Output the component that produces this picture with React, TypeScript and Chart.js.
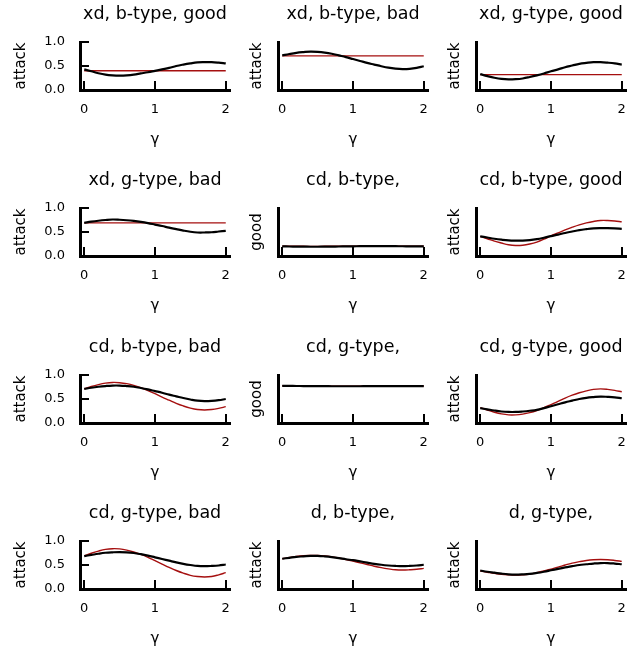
import React, { useEffect, useRef } from "react";
import { Chart, registerables } from "chart.js";

Chart.register(...registerables);

// ---------- data ----------
const gamma = [0, 0.1, 0.2, 0.3, 0.4, 0.5, 0.6, 0.7, 0.8, 0.9, 1.0, 1.1, 1.2, 1.3, 1.4, 1.5, 1.6, 1.7, 1.8, 1.9, 2.0];
const xTickValues = [0, 1, 2];
const xTickLabels = ["0", "1", "2"];
const yTickValues = [0, 0.5, 1];
const yTickLabels = ["0.0", "0.5", "1.0"];

const panelTitles = [
  "xd, b-type, good", "xd, b-type, bad", "xd, g-type, good",
  "xd, g-type, bad", "cd, b-type,", "cd, b-type, good",
  "cd, b-type, bad", "cd, g-type,", "cd, g-type, good",
  "cd, g-type, bad", "d, b-type,", "d, g-type,",
];
const panelYLabels = [
  "attack", "attack", "attack",
  "attack", "good", "attack",
  "attack", "good", "attack",
  "attack", "attack", "attack",
];

const xdBGoodBlack = [0.43, 0.39, 0.35, 0.32, 0.305, 0.30, 0.305, 0.32, 0.345, 0.37, 0.40, 0.43, 0.46, 0.50, 0.53, 0.555, 0.575, 0.58, 0.58, 0.57, 0.555];
const xdBGoodRed = [0.40, 0.40, 0.40, 0.40, 0.40, 0.40, 0.40, 0.40, 0.40, 0.40, 0.40, 0.40, 0.40, 0.40, 0.40, 0.40, 0.40, 0.40, 0.40, 0.40, 0.40];

const xdBBadBlack = [0.72, 0.75, 0.775, 0.79, 0.80, 0.795, 0.78, 0.755, 0.72, 0.685, 0.645, 0.605, 0.565, 0.53, 0.495, 0.465, 0.445, 0.435, 0.44, 0.46, 0.495];
const xdBBadRed = [0.71, 0.71, 0.71, 0.71, 0.71, 0.71, 0.71, 0.71, 0.71, 0.71, 0.71, 0.71, 0.71, 0.71, 0.71, 0.71, 0.71, 0.71, 0.71, 0.71, 0.71];

const xdGGoodBlack = [0.33, 0.29, 0.255, 0.23, 0.22, 0.225, 0.24, 0.27, 0.305, 0.345, 0.39, 0.43, 0.475, 0.51, 0.545, 0.565, 0.58, 0.58, 0.57, 0.555, 0.53];
const xdGGoodRed = [0.32, 0.32, 0.32, 0.32, 0.32, 0.32, 0.32, 0.32, 0.32, 0.32, 0.32, 0.32, 0.32, 0.32, 0.32, 0.32, 0.32, 0.32, 0.32, 0.32, 0.32];

const xdGBadBlack = [0.69, 0.715, 0.735, 0.75, 0.76, 0.755, 0.745, 0.73, 0.71, 0.685, 0.655, 0.625, 0.59, 0.56, 0.53, 0.505, 0.49, 0.49, 0.495, 0.51, 0.525];
const xdGBadRed = [0.69, 0.69, 0.69, 0.69, 0.69, 0.69, 0.69, 0.69, 0.69, 0.69, 0.69, 0.69, 0.69, 0.69, 0.69, 0.69, 0.69, 0.69, 0.69, 0.69, 0.69];

const cdBNoneBlack = [0.20, 0.198, 0.196, 0.194, 0.193, 0.193, 0.194, 0.196, 0.198, 0.20, 0.202, 0.204, 0.205, 0.206, 0.206, 0.205, 0.204, 0.203, 0.202, 0.201, 0.20];
const cdBNoneRed = [0.205, 0.204, 0.203, 0.202, 0.201, 0.201, 0.202, 0.203, 0.204, 0.205, 0.206, 0.207, 0.208, 0.208, 0.208, 0.207, 0.206, 0.206, 0.205, 0.205, 0.205];

const cdBGoodBlack = [0.41, 0.385, 0.36, 0.34, 0.325, 0.32, 0.32, 0.33, 0.35, 0.38, 0.415, 0.445, 0.48, 0.51, 0.54, 0.56, 0.575, 0.58, 0.58, 0.575, 0.565];
const cdBGoodRed = [0.41, 0.36, 0.31, 0.27, 0.235, 0.22, 0.225, 0.25, 0.29, 0.35, 0.42, 0.48, 0.545, 0.60, 0.65, 0.69, 0.72, 0.74, 0.74, 0.73, 0.71];

const cdBBadBlack = [0.71, 0.735, 0.755, 0.77, 0.78, 0.78, 0.77, 0.755, 0.73, 0.70, 0.665, 0.63, 0.59, 0.555, 0.52, 0.49, 0.465, 0.455, 0.46, 0.475, 0.50];
const cdBBadRed = [0.71, 0.76, 0.80, 0.83, 0.845, 0.84, 0.82, 0.785, 0.735, 0.675, 0.61, 0.54, 0.475, 0.41, 0.355, 0.31, 0.28, 0.27, 0.28, 0.305, 0.34];

const cdGNoneBlack = [0.772, 0.772, 0.771, 0.77, 0.769, 0.768, 0.767, 0.766, 0.766, 0.766, 0.766, 0.766, 0.767, 0.767, 0.768, 0.768, 0.769, 0.769, 0.769, 0.769, 0.769];
const cdGNoneRed = [0.775, 0.775, 0.774, 0.773, 0.772, 0.771, 0.77, 0.769, 0.769, 0.769, 0.769, 0.769, 0.77, 0.77, 0.771, 0.771, 0.772, 0.772, 0.772, 0.772, 0.772];

const cdGGoodBlack = [0.31, 0.285, 0.26, 0.24, 0.23, 0.23, 0.24, 0.255, 0.275, 0.31, 0.35, 0.39, 0.43, 0.465, 0.50, 0.525, 0.54, 0.55, 0.545, 0.535, 0.515];
const cdGGoodRed = [0.32, 0.27, 0.225, 0.19, 0.17, 0.17, 0.185, 0.215, 0.26, 0.32, 0.385, 0.45, 0.52, 0.58, 0.63, 0.67, 0.70, 0.71, 0.70, 0.68, 0.65];

const cdGBadBlack = [0.685, 0.71, 0.735, 0.755, 0.765, 0.77, 0.765, 0.75, 0.725, 0.695, 0.66, 0.625, 0.59, 0.555, 0.525, 0.50, 0.48, 0.475, 0.48, 0.49, 0.51];
const cdGBadRed = [0.69, 0.745, 0.79, 0.825, 0.84, 0.835, 0.81, 0.77, 0.72, 0.66, 0.59, 0.52, 0.45, 0.385, 0.33, 0.285, 0.26, 0.25, 0.26, 0.295, 0.34];

const dBNoneBlack = [0.63, 0.65, 0.67, 0.68, 0.69, 0.69, 0.68, 0.665, 0.645, 0.62, 0.60, 0.575, 0.55, 0.525, 0.505, 0.49, 0.48, 0.475, 0.48, 0.49, 0.505];
const dBNoneRed = [0.63, 0.655, 0.68, 0.695, 0.70, 0.70, 0.69, 0.67, 0.645, 0.615, 0.58, 0.545, 0.51, 0.475, 0.445, 0.42, 0.40, 0.395, 0.40, 0.41, 0.43];

const dGNoneBlack = [0.385, 0.36, 0.34, 0.32, 0.305, 0.30, 0.305, 0.315, 0.335, 0.36, 0.39, 0.42, 0.45, 0.475, 0.50, 0.515, 0.53, 0.54, 0.54, 0.53, 0.515];
const dGNoneRed = [0.375, 0.35, 0.325, 0.305, 0.295, 0.29, 0.295, 0.31, 0.34, 0.375, 0.415, 0.455, 0.50, 0.54, 0.57, 0.595, 0.61, 0.615, 0.61, 0.595, 0.575];

const blackSeries = [
  xdBGoodBlack, xdBBadBlack, xdGGoodBlack,
  xdGBadBlack, cdBNoneBlack, cdBGoodBlack,
  cdBBadBlack, cdGNoneBlack, cdGGoodBlack,
  cdGBadBlack, dBNoneBlack, dGNoneBlack,
];
const redSeries = [
  xdBGoodRed, xdBBadRed, xdGGoodRed,
  xdGBadRed, cdBNoneRed, cdBGoodRed,
  cdBBadRed, cdGNoneRed, cdGGoodRed,
  cdGBadRed, dBNoneRed, dGNoneRed,
];

// ---------- layout ----------
const FONT = "'DejaVu Sans', sans-serif";
const SPINE_X = [80, 278, 476];
const PLOT_TOP = [42, 208, 375, 541];
const PLOT_W = 150;
const PLOT_H = 48;
const Y_AXIS_W = 80;
const TITLE_H = 42;
const X_AXIS_H = 70;
const BLACK = "#000000";
const RED = "rgb(165,15,15)";

function Panel({ index }: { index: number }) {
  const ref = useRef<HTMLCanvasElement | null>(null);
  const row = Math.floor(index / 3);
  const col = index % 3;
  const showYTicks = col === 0;
  const width = Y_AXIS_W + PLOT_W + Y_AXIS_W;
  const height = TITLE_H + PLOT_H + X_AXIS_H;

  useEffect(() => {
    if (!ref.current) return;
    const toPts = (vals: number[]) => vals.map((v, i) => ({ x: gamma[i], y: v }));
    const chart = new Chart(ref.current, {
      type: "line",
      data: {
        datasets: [
          {
            data: toPts(blackSeries[index]),
            borderColor: BLACK,
            borderWidth: 2.2,
            pointRadius: 0,
            tension: 0.4,
            fill: false,
          },
          {
            data: toPts(redSeries[index]),
            borderColor: RED,
            borderWidth: 1.4,
            pointRadius: 0,
            tension: 0.4,
            fill: false,
          },
        ],
      },
      options: {
        animation: false,
        responsive: false,
        devicePixelRatio: 1,
        events: [],
        layout: { padding: 0 },
        plugins: {
          legend: { display: false },
          tooltip: { enabled: false },
          title: {
            display: true,
            text: panelTitles[index],
            color: BLACK,
            font: { family: FONT, size: 17.5, weight: "normal", lineHeight: "20px" } as any,
            padding: { top: 4, bottom: 18 },
          },
        },
        scales: {
          x: {
            type: "linear",
            min: -0.06,
            max: 2.06,
            afterFit: (s: any) => {
              s.height = X_AXIS_H;
              s.paddingLeft = 0;
              s.paddingRight = 0;
            },
            afterBuildTicks: (s: any) => {
              s.ticks = xTickValues.map((v) => ({ value: v }));
            },
            ticks: {
              color: BLACK,
              font: { family: FONT, size: 13 },
              padding: 20.5,
              maxRotation: 0,
              autoSkip: false,
              callback: (v: any) => xTickLabels[xTickValues.indexOf(Number(v))],
            },
            grid: { drawOnChartArea: false, color: BLACK, lineWidth: 2, tickLength: -9 },
            border: { display: true, color: BLACK, width: 3 },
            title: {
              display: true,
              text: "γ",
              color: BLACK,
              font: { family: FONT, size: 15 },
              padding: { top: 0, bottom: 10.5 },
            },
          },
          y: {
            type: "linear",
            min: 0,
            max: 1,
            afterFit: (s: any) => {
              s.width = Y_AXIS_W;
              s.paddingTop = 0;
              s.paddingBottom = 0;
            },
            afterBuildTicks: (s: any) => {
              s.ticks = yTickValues.map((v) => ({ value: v }));
            },
            ticks: {
              display: showYTicks,
              color: BLACK,
              font: { family: FONT, size: 13 },
              padding: 24,
              autoSkip: false,
              callback: (v: any) => yTickLabels[yTickValues.indexOf(Number(v))],
            },
            grid: {
              drawOnChartArea: false,
              drawTicks: showYTicks,
              color: BLACK,
              lineWidth: 2,
              tickLength: -9,
            },
            border: { display: true, color: BLACK, width: 3 },
            title: {
              display: true,
              text: panelYLabels[index],
              color: BLACK,
              font: { family: FONT, size: 15 },
              padding: { top: showYTicks ? 12 : 50, bottom: 0 },
            },
          },
          // spacer axis on the right so the title centres over the plot area
          yRight: {
            type: "linear",
            position: "right",
            display: true,
            afterFit: (s: any) => {
              s.width = Y_AXIS_W;
              s.paddingTop = 0;
              s.paddingBottom = 0;
            },
            ticks: { display: false },
            grid: { display: false, drawTicks: false },
            border: { display: false },
            title: { display: false },
          },
        },
      },
    } as any);
    return () => chart.destroy();
  }, [index]);

  return (
    <canvas
      ref={ref}
      width={width}
      height={height}
      style={{
        position: "absolute",
        left: SPINE_X[col] - Y_AXIS_W,
        top: PLOT_TOP[row] - TITLE_H,
        width,
        height,
      }}
    />
  );
}

export default function App() {
  return (
    <div
      style={{
        position: "absolute",
        left: 0,
        top: 0,
        width: 643,
        height: 649,
        overflow: "hidden",
        background: "#ffffff",
      }}
    >
      {panelTitles.map((_, i) => (
        <Panel key={i} index={i} />
      ))}
    </div>
  );
}
